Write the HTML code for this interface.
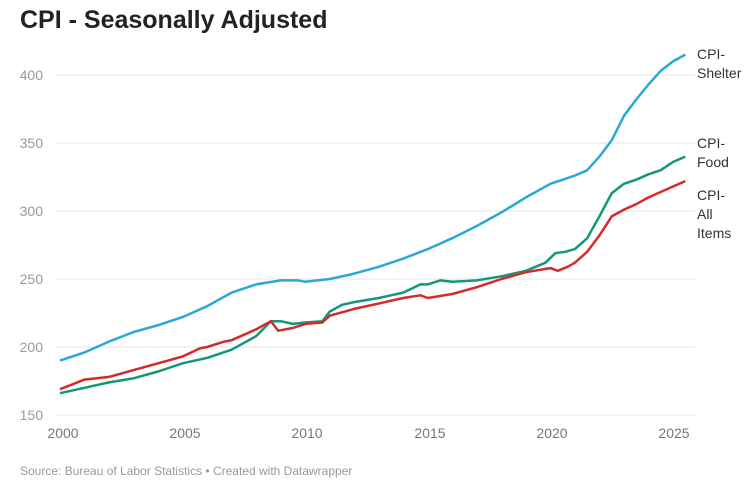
<!DOCTYPE html>
<html><head><meta charset="utf-8"><style>
body{margin:0;background:#fff;font-family:"Liberation Sans",sans-serif;}
svg text{font-family:"Liberation Sans",sans-serif;}
</style></head><body>
<svg id="s" width="753" height="491" xmlns="http://www.w3.org/2000/svg">
<text x="20" y="28" font-size="25" font-weight="bold" fill="#222">CPI - Seasonally Adjusted</text>
<g stroke="#e6e6e6" stroke-width="1">
<line x1="56" x2="695" y1="75" y2="75"/><line x1="56" x2="695" y1="143" y2="143"/>
<line x1="56" x2="695" y1="211" y2="211"/><line x1="56" x2="695" y1="279" y2="279"/>
<line x1="56" x2="695" y1="347" y2="347"/><line x1="56" x2="695" y1="415" y2="415"/>
</g>
<g font-size="14" fill="#999" text-anchor="end">
<text x="43" y="80">400</text><text x="43" y="148">350</text><text x="43" y="216">300</text>
<text x="43" y="284">250</text><text x="43" y="352">200</text><text x="43" y="420">150</text>
</g>
<g font-size="14" fill="#777" text-anchor="middle">
<text x="63" y="438">2000</text><text x="185" y="438">2005</text><text x="307" y="438">2010</text>
<text x="430" y="438">2015</text><text x="552" y="438">2020</text><text x="674" y="438">2025</text>
</g>
<g font-size="14" fill="#333">
<text x="697" y="59">CPI-</text><text x="697" y="78">Shelter</text>
<text x="697" y="148">CPI-</text><text x="697" y="167">Food</text>
<text x="697" y="200">CPI-</text><text x="697" y="219">All</text><text x="697" y="238">Items</text>
</g>
<text x="20" y="475" font-size="12" fill="#999">Source: Bureau of Labor Statistics • Created with Datawrapper</text>
</svg>
<script>
function X(t){return 60+(t-2000)*24.52}
function Y(v){return 75+(400-v)*1.36}
var series=[
["#2aa8d6",[2000,190,2001,196,2002,204,2003,211,2004,216,2005,222,2006,230,2007,240,2008,246,2009,249,2009.7,249,2010,248,2011,250,2012,254,2013,259,2014,265,2015,272,2016,280,2017,289,2018,299,2019,310,2020,320,2020.5,323,2021,326,2021.5,330,2022,340,2022.5,352,2023,370,2023.5,382,2024,393,2024.5,403,2025,410,2025.5,415]],
["#14967a",[2000,166,2001,170,2002,174,2003,177,2004,182,2005,188,2006,192,2007,198,2008,208,2008.6,219,2009,219,2009.5,217,2010,218,2010.7,219,2011,226,2011.5,231,2012,233,2013,236,2014,240,2014.7,246,2015,246,2015.5,249,2016,248,2017,249,2018,252,2019,256,2019.8,262,2020.2,269,2020.6,270,2021,272,2021.5,280,2022,296,2022.5,313,2023,320,2023.5,323,2024,327,2024.5,330,2025,336,2025.5,340]],
["#d42a2a",[2000,169,2001,176,2002,178,2003,183,2004,188,2005,193,2005.7,199,2006,200,2006.7,204,2007,205,2008,213,2008.6,219,2008.9,212,2009.5,214,2010,217,2010.7,218,2011,223,2012,228,2013,232,2014,236,2014.7,238,2015,236,2016,239,2017,244,2018,250,2019,255,2020,258,2020.3,256,2020.7,259,2021,262,2021.5,270,2022,282,2022.5,296,2023,301,2023.5,305,2024,310,2024.5,314,2025,318,2025.5,322]]];
var s=document.getElementById('s');
series.forEach(function(d){var p=[];for(var i=0;i<d[1].length;i+=2)p.push(X(d[1][i]).toFixed(1)+','+Y(d[1][i+1]).toFixed(1));
var e=document.createElementNS('http://www.w3.org/2000/svg','polyline');e.setAttribute('points',p.join(' '));e.setAttribute('fill','none');e.setAttribute('stroke',d[0]);e.setAttribute('stroke-width','2.5');e.setAttribute('stroke-linejoin','round');s.appendChild(e);});
</script>
</body></html>
